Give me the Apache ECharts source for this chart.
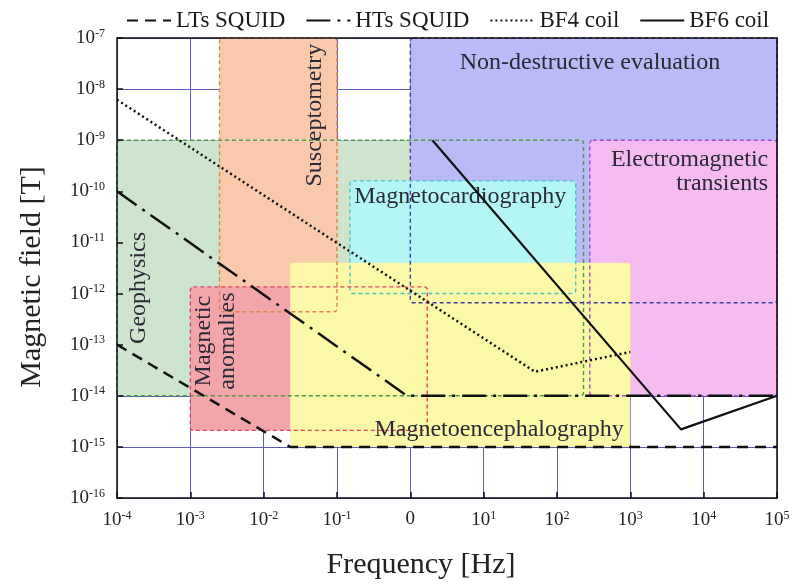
<!DOCTYPE html>
<html><head><meta charset="utf-8">
<script src="https://cdn.jsdelivr.net/npm/echarts@6/dist/echarts.min.js"></script>
<style>html,body{margin:0;padding:0;background:#fff}#c{width:798px;height:586px}</style>
</head><body><div id="c"></div>
<script>
// ---- tick labels ----
const xTickBase = ['10','10','10','10','0','10','10','10','10','10'];
const xTickSup  = ['-4','-3','-2','-1','','1','2','3','4','5'];
const yTickSup  = ['-16','-15','-14','-13','-12','-11','-10','-9','-8','-7'];

// ---- application regions (frequency in Hz, field in T) ----
const regionNames    = ['Geophysics','Non-destructive evaluation','Susceptometry','Magnetocardiography','Electromagnetic transients','Magnetic anomalies','Magnetoencephalography'];
const regionFreqMin  = [1e-4, 1, 0.0025, 0.15, 280, 1e-3, 0.023];
const regionFreqMax  = [230, 1e5, 0.1, 180, 1e5, 1.7, 1000];
const regionFieldMin = [1e-14, 6.6e-13, 4.4e-13, 1e-12, 1e-14, 2.1e-15, 1e-15];
const regionFieldMax = [1e-9, 1e-7, 1e-7, 1.6e-10, 1e-9, 1.35e-12, 4e-12];

// ---- sensor noise curves ----
const ltsFreq  = [1e-4, 0.023, 1e5];
const ltsField = [1e-13, 1e-15, 1e-15];
const htsFreq  = [1e-4, 0.9, 1e5];
const htsField = [1e-10, 1e-14, 1e-14];
const bf4Freq  = [1e-4, 50, 1000];
const bf4Field = [6.2e-9, 2.95e-14, 7.2e-14];
const bf6Freq  = [2, 4900, 1e5];
const bf6Field = [1e-9, 2.2e-15, 1e-14];

const FONT = '"Liberation Serif","Times New Roman",serif';
const fills   = ['#cfe4cf','#babaf6','#f8c9aa','#b4f6f6','#f5baf0','#f2a6aa','#fbf8a8'];
const strokes = ['#4c9a4c','#3e3ea0','#e08448','#44c6c6','#a448c4','#e04464',null];
// label placement (in data units) and style per region
const labelCfg = [
  {at:[Math.pow(10,-3.71), Math.pow(10,-11.89)], rot:true, align:'center'},
  {at:[Math.pow(10,2.45),  Math.pow(10,-7.49)],  rot:false, align:'center'},
  {at:[Math.pow(10,-1.30), Math.pow(10,-8.51)],  rot:true, align:'center'},
  {at:[Math.pow(10,0.68),  Math.pow(10,-10.11)], rot:false, align:'center'},
  {at:[Math.pow(10,4.88),  Math.pow(10,-9.62)],  rot:false, align:'right', text:'Electromagnetic\ntransients'},
  {at:[Math.pow(10,-2.65), Math.pow(10,-12.93)], rot:true, align:'center', text:'Magnetic\nanomalies'},
  {at:[Math.pow(10,1.21),  Math.pow(10,-14.67)], rot:false, align:'center'}
];

const rectData = regionNames.map((n,i)=>[regionFreqMin[i], regionFreqMax[i], regionFieldMin[i], regionFieldMax[i]]);
const labelData = regionNames.map((n,i)=>[labelCfg[i].at[0], labelCfg[i].at[1]]);

function rectShape(api){
  const p0 = api.coord([api.value(0), api.value(3)]);
  const p1 = api.coord([api.value(1), api.value(2)]);
  return {x:p0[0], y:p0[1], width:p1[0]-p0[0], height:p1[1]-p0[1], r:3};
}
const zip = (a,b)=>a.map((v,i)=>[v,b[i]]);

const axisBase = {
  type:'log', logBase:10, interval:1
};
const xLim = {min:1e-4, max:1e5};
const yLim = {min:1e-16, max:1e-7};

const option = {
  backgroundColor:'#fff',
  animation:false,
  grid:{left:117, right:21, top:38, bottom:88, containLabel:false},
  legend:{
    left:121, top:4, itemWidth:44, itemHeight:12, itemGap:20,
    itemStyle:{opacity:0},
    textStyle:{fontFamily:FONT, fontSize:23, color:'#1a1a1a'},
    data:['LTs SQUID','HTs SQUID','BF4 coil','BF6 coil']
  },
  xAxis:[
    Object.assign({}, axisBase, xLim, {position:'bottom', z:0,
      axisLine:{show:false}, axisTick:{show:false}, axisLabel:{show:false},
      splitLine:{show:true, lineStyle:{color:'#5c5cb8', width:1}}}),
    Object.assign({}, axisBase, xLim, {position:'bottom', z:10,
      axisLine:{show:true, onZero:false, lineStyle:{color:'#111', width:1.5}},
      axisTick:{show:true, inside:true, length:6, lineStyle:{color:'#111', width:1.5}},
      splitLine:{show:false},
      axisLabel:{margin:12, formatter:function(v){
        const k = Math.round(Math.log10(v)) + 4;
        return '{b|' + xTickBase[k] + '}' + (xTickSup[k] ? '{s|' + xTickSup[k] + '}' : '');
      }, rich:{b:{fontFamily:FONT, fontSize:19, color:'#222'}, s:{fontFamily:FONT, fontSize:12, color:'#222', padding:[0,0,9,0]}}},
      name:'Frequency [Hz]', nameLocation:'middle', nameGap:52,
      nameTextStyle:{fontFamily:FONT, fontSize:30, color:'#222', padding:[0,52,0,0]}}),
    Object.assign({}, axisBase, xLim, {position:'top', z:10,
      axisLine:{show:true, onZero:false, lineStyle:{color:'#111', width:1.5}},
      axisTick:{show:false}, axisLabel:{show:false}, splitLine:{show:false}})
  ],
  yAxis:[
    Object.assign({}, axisBase, yLim, {position:'left', z:0,
      axisLine:{show:false}, axisTick:{show:false}, axisLabel:{show:false},
      splitLine:{show:true, lineStyle:{color:'#5c5cb8', width:1}}}),
    Object.assign({}, axisBase, yLim, {position:'left', z:10,
      axisLine:{show:true, onZero:false, lineStyle:{color:'#111', width:1.5}},
      axisTick:{show:true, inside:true, length:6, lineStyle:{color:'#111', width:1.5}},
      splitLine:{show:false},
      axisLabel:{margin:12, formatter:function(v){
        const k = Math.round(Math.log10(v)) + 16;
        return '{b|10}{s|' + yTickSup[k] + '}';
      }, rich:{b:{fontFamily:FONT, fontSize:19, color:'#222'}, s:{fontFamily:FONT, fontSize:12, color:'#222', padding:[0,0,9,0]}}},
      name:'Magnetic field [T]', nameLocation:'middle', nameGap:70,
      nameTextStyle:{fontFamily:FONT, fontSize:30, color:'#222', padding:[0,18,0,0]}}),
    Object.assign({}, axisBase, yLim, {position:'right', z:10,
      axisLine:{show:true, onZero:false, lineStyle:{color:'#111', width:1.5}},
      axisTick:{show:false}, axisLabel:{show:false}, splitLine:{show:false}})
  ],
  series:[
    {type:'custom', name:'regions', z:1, silent:true, xAxisIndex:0, yAxisIndex:0,
     data:rectData, encode:{x:[0,1], y:[2,3]},
     renderItem:function(params, api){
       return {type:'rect', shape:rectShape(api), style:{fill:fills[params.dataIndex], stroke:null}};
     }},
    {type:'custom', name:'borders', z:3, silent:true, xAxisIndex:0, yAxisIndex:0,
     data:rectData, encode:{x:[0,1], y:[2,3]},
     renderItem:function(params, api){
       const s = strokes[params.dataIndex];
       if(!s) return null;
       return {type:'rect', shape:rectShape(api), style:{fill:null, stroke:s, lineWidth:1.4, lineDash:[4,3]}};
     }},
    {type:'custom', name:'labels', z:4, silent:true, xAxisIndex:0, yAxisIndex:0,
     data:labelData, encode:{x:0, y:1},
     renderItem:function(params, api){
       const i = params.dataIndex, c = labelCfg[i];
       const p = api.coord([api.value(0), api.value(1)]);
       return {type:'text', x:p[0], y:p[1], rotation:c.rot ? Math.PI/2 : 0,
         style:{text:c.text || regionNames[i], fill:'#2a2a36', font:'24px ' + FONT,
           align:c.align, textAlign:c.align, verticalAlign:'middle', textVerticalAlign:'middle', lineHeight:24}};
     }},
    {type:'line', name:'LTs SQUID', z:6, xAxisIndex:0, yAxisIndex:0, symbol:'none', data:zip(ltsFreq, ltsField),
     lineStyle:{color:'#111', width:2.5, type:[11,7]}, itemStyle:{color:'#111'}},
    {type:'line', name:'HTs SQUID', z:6, xAxisIndex:0, yAxisIndex:0, symbol:'none', data:zip(htsFreq, htsField),
     lineStyle:{color:'#111', width:2.5, type:[24,7,3,7]}, itemStyle:{color:'#111'}},
    {type:'line', name:'BF4 coil', z:6, xAxisIndex:0, yAxisIndex:0, symbol:'none', data:zip(bf4Freq, bf4Field),
     lineStyle:{color:'#111', width:2.5, type:[2,3]}, itemStyle:{color:'#111'}},
    {type:'line', name:'BF6 coil', z:6, xAxisIndex:0, yAxisIndex:0, symbol:'none', data:zip(bf6Freq, bf6Field),
     lineStyle:{color:'#111', width:2.2, type:'solid'}, itemStyle:{color:'#111'}}
  ]
};
const chart = echarts.init(document.getElementById('c'), null, {renderer:'canvas'});
chart.setOption(option);
</script>
</body></html>
